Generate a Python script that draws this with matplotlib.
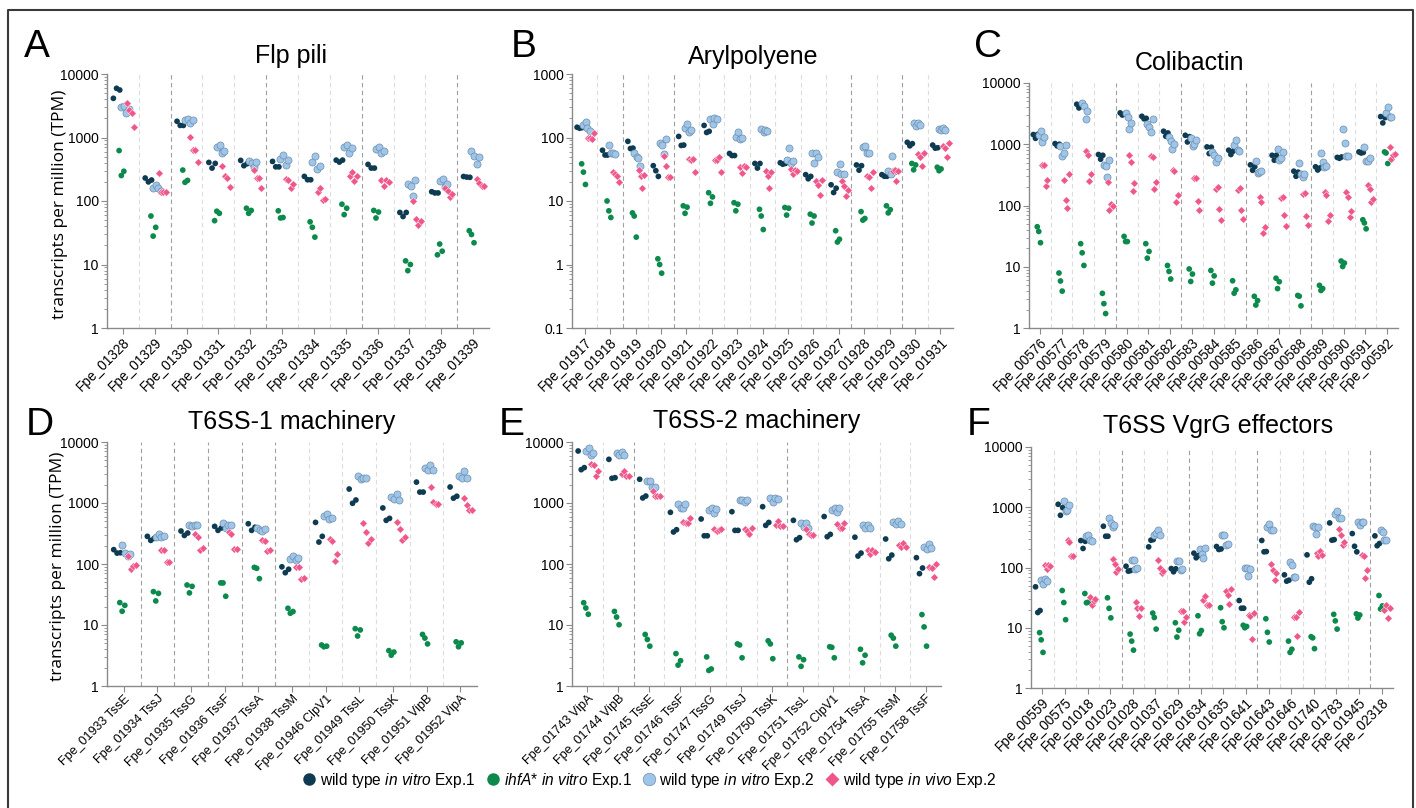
import matplotlib
matplotlib.use('Agg')
import matplotlib.pyplot as plt
from matplotlib.lines import Line2D
from matplotlib.ticker import FixedLocator, LogLocator, FuncFormatter, NullFormatter

plt.rcParams['font.family'] = ['Liberation Sans', 'DejaVu Sans']
plt.rcParams['mathtext.fontset'] = 'custom'
plt.rcParams['mathtext.rm'] = 'Liberation Sans'
plt.rcParams['mathtext.it'] = 'Liberation Sans:italic'

# ---------------- data ----------------
A_genes = ["Fpe_01328", "Fpe_01329", "Fpe_01330", "Fpe_01331", "Fpe_01332", "Fpe_01333",
           "Fpe_01334", "Fpe_01335", "Fpe_01336", "Fpe_01337", "Fpe_01338", "Fpe_01339"]
A_dark = [[4140, 5950, 5600], [230, 200, 214], [1800, 1550, 1550], [405, 330, 391],
          [436, 360, 386], [420, 345, 345], [244, 216, 216], [440, 410, 440],
          [377, 330, 330], [66, 57, 66], [140, 134, 134], [243, 238, 236]]
A_green = [[622, 252, 294], [58, 28, 38.5], [307, 197, 211], [49, 69, 64],
           [77, 64, 71], [70, 54, 55], [47, 38.5, 27], [89, 61, 77],
           [71, 54, 67], [11.4, 8.0, 10.0], [14.2, 21, 16.2], [34, 29.7, 22]]
A_lb = [[3060, 3140, 2400, 2780], [158, 181, 158, 144], [1900, 1960, 1700, 1900],
        [700, 750, 580, 610], [420, 400, 345, 410], [458, 523, 373, 447],
        [405, 504, 322, 351], [720, 770, 580, 680], [671, 697, 580, 620],
        [185, 172, 118, 214], [204, 222, 164, 187], [610, 520, 385, 500]]
A_pink = [[3460, 2720, 2460, 1490], [276, 140, 138, 140], [1020, 632, 632, 409],
          [351, 250, 227, 164], [307, 230, 230, 158], [222, 214, 158, 187],
          [139, 160, 105, 108], [250, 290, 206, 250], [214, 170, 214, 200],
          [100, 52, 42, 49], [158, 142, 114, 129], [226, 195, 170, 175]]
A_dark_dividers = [1, 4, 7, 10]

B_genes = ["Fpe_01917", "Fpe_01918", "Fpe_01919", "Fpe_01920", "Fpe_01921", "Fpe_01922",
           "Fpe_01923", "Fpe_01924", "Fpe_01925", "Fpe_01926", "Fpe_01927", "Fpe_01928",
           "Fpe_01929", "Fpe_01930", "Fpe_01931"]
B_dark = [[145, 140, 143], [63, 53, 53], [87, 67, 68], [36, 30, 24.4], [104, 75, 76],
          [155, 120, 125], [56, 52, 52], [39, 33, 39], [40, 38, 39], [26, 22.4, 24.4],
          [18, 13.6, 15.9], [37, 30.6, 36], [26, 24.5, 24.5], [84, 74, 80], [76, 68, 69]]
B_green = [[38.5, 28.5, 18.2], [10, 7.0, 5.5], [6.5, 5.8, 2.7], [1.23, 1.0, 0.73],
           [8.4, 6.4, 8.0], [13.5, 9.2, 11.6], [9.4, 7.0, 8.9], [7.4, 5.8, 3.55],
           [7.9, 6.0, 7.7], [6.2, 4.5, 5.8], [3.4, 2.26, 2.5], [6.8, 5.0, 5.3],
           [8.4, 6.5, 7.3], [39, 31, 37], [34, 30, 32]]
B_lb = [[158, 176, 140, 125], [75, 58, 57, 55], [56, 50, 47, 36], [81, 76, 54, 95],
        [139, 162, 120, 130], [194, 164, 200, 194], [103, 120, 95, 100],
        [135, 122, 132, 128], [45, 68, 40, 42], [56, 40, 56, 50], [28.8, 38, 26.5, 27],
        [70, 73, 58, 58], [30, 27, 52, 30], [167, 152, 167, 160], [135, 132, 140, 132]]
B_pink = [[97, 97, 96, 117], [29, 27, 25, 20], [31, 25, 16, 26], [52, 35, 24, 24],
          [46, 44, 46, 28.5], [45, 43.5, 50, 28.5], [34, 28, 35, 34], [30, 25, 16, 29],
          [32, 26.5, 31, 30], [21, 18, 12.6, 21.4], [20.6, 17.5, 12, 15],
          [24.4, 23.6, 16.2, 28.8], [29.5, 31, 21, 30], [55, 50, 36, 58], [74, 69, 50, 83]]
B_dark_dividers = [1, 3, 10, 12]

C_genes = ["Fpe_00576", "Fpe_00577", "Fpe_00578", "Fpe_00579", "Fpe_00580", "Fpe_00581",
           "Fpe_00582", "Fpe_00583", "Fpe_00584", "Fpe_00585", "Fpe_00586", "Fpe_00587",
           "Fpe_00588", "Fpe_00589", "Fpe_00590", "Fpe_00591", "Fpe_00592"]
C_dark = [[1440, 1250, 1450], [1025, 940, 1000], [4500, 3920, 4170], [680, 570, 660],
          [3250, 3000, 3100], [2860, 2600, 2650], [1630, 1350, 1530], [1400, 1090, 1330],
          [905, 705, 895], [800, 680, 770], [461, 376, 430], [660, 549, 660],
          [363, 300, 350], [428, 380, 410], [610, 590, 620], [750, 720, 735],
          [2830, 2230, 2720]]
C_green = [[45, 37.7, 24.7], [7.9, 5.85, 4.0], [23.8, 16.9, 10.5], [3.68, 2.5, 1.72],
           [31.3, 25.8, 25.8], [23.8, 13.8, 17.8], [10.5, 8.4, 6.3], [9.2, 5.75, 7.6],
           [8.7, 5.4, 7.1], [5.9, 3.7, 4.2], [3.29, 2.37, 2.8], [6.5, 4.4, 5.7],
           [3.4, 3.3, 2.3], [4.97, 4.1, 4.4], [12.4, 10.1, 11.5], [58.5, 52, 41.6],
           [750, 720, 485]]
C_lb = [[1437, 1650, 1090, 1316], [930, 640, 720, 960], [4780, 4220, 2600, 3500],
        [450, 440, 294, 549], [3250, 2800, 1800, 2230], [2180, 1900, 1560, 2600],
        [1316, 1120, 850, 1025], [1270, 940, 1000, 1160], [750, 680, 515, 600],
        [975, 1180, 800, 770], [530, 345, 355, 372], [840, 549, 590, 740],
        [500, 330, 294, 330], [720, 522, 428, 440], [1800, 1050, 655, 655],
        [905, 530, 540, 590], [3280, 4000, 2830, 2800]]
C_pink = [[461, 461, 207, 259], [259, 125, 90, 325], [770, 660, 252, 325],
          [242, 85, 104, 100], [662, 512, 173, 235], [638, 614, 184, 243],
          [377, 372, 115, 151], [279, 285, 120, 85], [189, 201, 87, 58],
          [177, 190, 83, 60], [137, 115, 35.5, 43.8], [133, 140, 69.5, 45.5],
          [153, 163, 68, 48], [165, 151, 55.6, 69.5], [167, 138, 64.6, 80.9],
          [214, 187, 116, 130], [916, 585, 670, 690]]
C_dark_dividers = [3, 6, 9, 12]

D_genes = ["Fpe_01933 TssE", "Fpe_01934 TssJ", "Fpe_01935 TssG", "Fpe_01936 TssF",
           "Fpe_01937 TssA", "Fpe_01938 TssM", "Fpe_01946 ClpV1", "Fpe_01949 TssL",
           "Fpe_01950 TssK", "Fpe_01951 VipB", "Fpe_01952 VipA"]
D_dark = [[172, 151, 153], [284, 244, 263], [347, 294, 322], [414, 356, 390],
          [457, 356, 400], [90, 72, 82], [481, 229, 284], [1695, 990, 1120],
          [830, 520, 560], [2200, 1510, 1510], [1830, 1200, 1290]]
D_green = [[23.3, 16.8, 21], [35.2, 24.8, 33], [45.3, 33.6, 43], [49, 49, 29.6],
           [88, 85, 57.5], [18.8, 15.6, 16.6], [4.7, 4.4, 4.5], [8.7, 6.6, 8.3],
           [3.8, 3.2, 3.6], [7.0, 6.1, 4.9], [5.3, 4.4, 5.1]]
D_lb = [[207, 151, 135, 148], [277, 306, 272, 290], [430, 425, 435, 430],
        [475, 390, 430, 430], [389, 356, 350, 370], [122, 135, 117, 127],
        [620, 661, 555, 575], [2730, 2470, 2600, 2600], [1250, 1180, 1420, 1130],
        [3740, 3440, 4190, 3440], [2760, 2600, 3300, 2600]]
D_pink = [[134, 82, 93, 95], [172, 172, 107, 107], [314, 272, 172, 184],
          [338, 306, 174, 174], [250, 235, 163, 172], [89, 89, 57, 60],
          [258, 235, 111, 148], [477, 330, 217, 258], [495, 370, 250, 280],
          [1800, 1040, 980, 980], [1190, 917, 760, 760]]
D_dark_dividers = [0, 1, 2, 3, 4]

E_genes = ["Fpe_01743 VipA", "Fpe_01744 VipB", "Fpe_01745 TssE", "Fpe_01746 TssF",
           "Fpe_01747 TssG", "Fpe_01749 TssJ", "Fpe_01750 TssK", "Fpe_01751 TssL",
           "Fpe_01752 ClpV1", "Fpe_01754 TssA", "Fpe_01755 TssM", "Fpe_01758 TssF"]
E_dark = [[7120, 3520, 3800], [5200, 2540, 2600], [2450, 1210, 1300], [703, 335, 365],
          [547, 290, 290], [720, 356, 356], [870, 430, 480], [520, 250, 270],
          [600, 280, 306], [275, 135, 151], [257, 122, 140], [127, 69.5, 86]]
E_green = [[23.2, 19, 15], [16.7, 13.5, 10.1], [7.0, 5.8, 4.5], [3.4, 2.2, 2.6],
           [3.0, 1.8, 1.9], [4.9, 4.7, 2.9], [5.5, 4.9, 2.8], [3.0, 2.1, 2.7],
           [4.4, 4.3, 2.9], [4.0, 2.4, 3.2], [6.8, 6.1, 4.5], [14.8, 9.3, 4.5]]
E_lb = [[7000, 7900, 6200, 6700], [6600, 6200, 6860, 6050], [2270, 2300, 1800, 1850],
        [950, 830, 840, 980], [768, 840, 690, 790], [1100, 1140, 1040, 1100],
        [1210, 1030, 1220, 1150], [470, 400, 475, 390], [775, 840, 700, 840],
        [430, 390, 440, 390], [490, 450, 510, 460], [190, 174, 213, 180]]
E_pink = [[4300, 4200, 2740, 3300], [3030, 3300, 2740, 2740], [1580, 1300, 1290, 1300],
          [490, 475, 475, 570], [380, 345, 361, 370], [380, 345, 306, 390],
          [440, 500, 425, 425], [370, 306, 300, 300], [445, 390, 390, 475],
          [172, 148, 167, 160], [207, 190, 220, 190], [89, 87, 61, 101]]
E_dark_dividers = [1, 6]

F_genes = ["Fpe_00559", "Fpe_00575", "Fpe_01018", "Fpe_01023", "Fpe_01028", "Fpe_01037",
           "Fpe_01629", "Fpe_01634", "Fpe_01635", "Fpe_01641", "Fpe_01643", "Fpe_01646",
           "Fpe_01740", "Fpe_01783", "Fpe_01945", "Fpe_02318"]
F_dark = [[47.8, 17.9, 19.3], [1120, 736, 985], [280, 207, 272], [484, 330, 330],
          [105, 87, 89], [220, 284, 290], [96, 85, 95], [173, 145, 158],
          [223, 199, 203], [28.3, 21.1, 21.1], [281, 182, 184], [75.5, 59.3, 61.6],
          [162, 57, 65], [549, 284, 290], [366, 225, 182], [335, 230, 250]]
F_green = [[8.3, 6.3, 3.9], [41.5, 26.2, 13.6], [37, 26, 26.5], [31.4, 21, 14.6],
           [7.85, 6.0, 4.25], [17.5, 14.8, 9.5], [12.1, 7.0, 9.1], [15.8, 7.95, 9.0],
           [21.5, 12.6, 10], [11, 10, 10.5], [14.1, 8.4, 5.8], [6.0, 3.9, 4.4],
           [7.1, 6.8, 4.5], [16.7, 13, 9.5], [17, 14.5, 16.3], [34.3, 20.5, 23]]
F_lb = [[63, 54, 65, 59], [1290, 870, 890, 1080], [330, 340, 285, 280],
        [656, 550, 470, 500], [132, 132, 96, 100], [340, 375, 420, 340],
        [128, 128, 90, 93], [199, 169, 145, 210], [345, 345, 238, 250],
        [100, 100, 72.7, 94], [477, 520, 420, 420], [124, 109, 70, 70],
        [496, 477, 365, 470], [785, 880, 673, 673], [563, 510, 575, 563],
        [416, 383, 284, 284]]
F_pink = [[109, 96, 110, 105], [284, 267, 154, 154], [33, 23.7, 28, 30],
          [141, 116, 84.7, 96], [26.6, 21, 15.8, 21], [134, 97, 80, 87],
          [18.8, 18.8, 12.6, 15], [28.4, 33.8, 23.7, 23.7], [40, 35.6, 25, 43.6],
          [16.2, 15.5, 6.6, 17.5], [116, 90, 63, 81], [15.1, 15.1, 7.3, 18.4],
          [171, 156, 187, 160], [428, 345, 238, 260], [162, 154, 67, 90],
          [19.6, 24, 14.3, 21]]
F_dark_dividers = [3, 6, 9, 14]

titles = ["Flp pili", "Arylpolyene", "Colibactin",
          "T6SS-1 machinery", "T6SS-2 machinery", "T6SS VgrG effectors"]
letters = ["A", "B", "C", "D", "E", "F"]
legend_labels = [r'wild type $\it{in\ vitro}$ Exp.1',
                 r'$\it{ihfA}$* $\it{in\ vitro}$ Exp.1',
                 r'wild type $\it{in\ vitro}$ Exp.2',
                 r'wild type $\it{in\ vivo}$ Exp.2']

# ---------------- styles ----------------
C_DARK = '#0e3b52'
C_GREEN = '#0b8a4c'
C_LB = '#9fc5e8'
C_LB_EDGE = '#6d8eae'
C_PINK = '#f0568a'
OFF_DARK = [-0.30, -0.20, -0.10]
OFF_GREEN = [-0.12, -0.05, 0.03]
OFF_LB = [-0.05, 0.04, 0.11, 0.19]
OFF_PINK = [0.12, 0.20, 0.27, 0.35]

W, H = 1416, 808
fig = plt.figure(figsize=(W / 100, H / 100), dpi=100)


def rect(l, t, r, b):
    return [l / W, 1 - b / H, (r - l) / W, (b - t) / H]


panels = [
    (A_genes, A_dark, A_green, A_lb, A_pink, A_dark_dividers, (107, 74, 489, 328), (1, 1e4)),
    (B_genes, B_dark, B_green, B_lb, B_pink, B_dark_dividers, (572, 74, 953, 328), (0.1, 1e3)),
    (C_genes, C_dark, C_green, C_lb, C_pink, C_dark_dividers, (1029, 83, 1398, 328), (1, 1e4)),
    (D_genes, D_dark, D_green, D_lb, D_pink, D_dark_dividers, (107, 442, 477, 686), (1, 1e4)),
    (E_genes, E_dark, E_green, E_lb, E_pink, E_dark_dividers, (572, 442, 941, 686), (1, 1e4)),
    (F_genes, F_dark, F_green, F_lb, F_pink, F_dark_dividers, (1031, 447, 1393, 688), (1, 1e4)),
]
title_pos = [(291, 63), (753, 64), (1190, 70), (292, 429), (757, 428), (1218, 433)]
letter_pos = [(24, 57), (511, 57), (974, 57), (26, 435), (499, 435), (967, 435)]
ylabel_pos = [(60, 204), None, None, (58, 566), None, None]
label_size = [9.8, 9.8, 9.8, 9.0, 9.0, 9.8]

SPINE = '#8a8a8a'
for p, (genes, dark, green, lb, pink, ddiv, box, ylim) in enumerate(panels):
    ax = fig.add_axes(rect(*box))
    n = len(genes)
    ax.set_yscale('log')
    ax.set_ylim(*ylim)
    ax.set_xlim(-0.5, n - 0.5)
    for k in range(n - 1):
        dk = k in ddiv
        ax.axvline(k + 0.5, color='#a0a0a0' if dk else '#dcdcdc', lw=0.8,
                   ls=(0, (4, 3)), zorder=0)
    for i in range(n):
        ax.scatter([i + o for o in OFF_DARK], dark[i], s=17, color=C_DARK,
                   edgecolors='none', zorder=3)
        ax.scatter([i + o for o in OFF_GREEN], green[i], s=17, color=C_GREEN,
                   edgecolors='none', zorder=3)
        ax.scatter([i + o for o in OFF_LB], lb[i], s=26, color=C_LB,
                   edgecolors=C_LB_EDGE, linewidths=0.5, zorder=4)
        ax.scatter([i + o for o in OFF_PINK], pink[i], s=15, marker='D', color=C_PINK,
                   edgecolors='white', linewidths=0.3, zorder=5)
    decades = [10 ** e for e in range(-1, 5) if ylim[0] <= 10 ** e <= ylim[1]]
    ax.yaxis.set_major_locator(FixedLocator(decades))
    ax.yaxis.set_major_formatter(FuncFormatter(lambda v, pos: '%g' % v))
    ax.yaxis.set_minor_locator(LogLocator(base=10, subs=range(2, 10), numticks=20))
    ax.yaxis.set_minor_formatter(NullFormatter())
    ax.set_xticks(range(n))
    ax.set_xticklabels(genes, rotation=45, ha='right', rotation_mode='anchor',
                       fontsize=label_size[p])
    ax.tick_params(axis='y', which='major', length=4, width=0.8, color=SPINE,
                   labelsize=10, pad=2)
    ax.tick_params(axis='y', which='minor', length=2, width=0.6, color=SPINE)
    ax.tick_params(axis='x', length=4, width=0.8, color=SPINE, pad=1)
    for s in ['top', 'right']:
        ax.spines[s].set_visible(False)
    for s in ['left', 'bottom']:
        ax.spines[s].set_color(SPINE)
        ax.spines[s].set_linewidth(1.0)
    ax.set_facecolor('none')

    tx, ty = title_pos[p]
    fig.text(tx / W, 1 - ty / H, titles[p], ha='center', va='baseline', fontsize=18)
    lx, ly = letter_pos[p]
    fig.text(lx / W, 1 - ly / H, letters[p], ha='left', va='baseline', fontsize=28)
    if ylabel_pos[p] is not None:
        yx, yy = ylabel_pos[p]
        fig.text(yx / W, 1 - yy / H, 'transcripts per million (TPM)', rotation=90,
                 ha='center', va='center', fontsize=12.5,
                 family=['Open Sans', 'DejaVu Sans'])

handles = [
    Line2D([], [], ls='', marker='o', markersize=9, markerfacecolor=C_DARK, markeredgecolor='none'),
    Line2D([], [], ls='', marker='o', markersize=9, markerfacecolor=C_GREEN, markeredgecolor='none'),
    Line2D([], [], ls='', marker='o', markersize=9, markerfacecolor=C_LB, markeredgecolor=C_LB_EDGE,
           markeredgewidth=0.5),
    Line2D([], [], ls='', marker='D', markersize=7.5, markerfacecolor=C_PINK, markeredgecolor='none'),
]
fig.legend(handles, legend_labels, loc='center', bbox_to_anchor=(650 / W, 1 - 780 / H),
           ncol=4, frameon=False, fontsize=11.2, handletextpad=0.3, columnspacing=0.7,
           handlelength=0.8, borderaxespad=0, borderpad=0)

fig.add_artist(Line2D([8 / W, 8 / W, 1413 / W, 1413 / W], [0, 1 - 10 / H, 1 - 10 / H, 0],
                      transform=fig.transFigure, color='#3a3a3a', lw=1.5))

fig.savefig('out.png', dpi=100)
